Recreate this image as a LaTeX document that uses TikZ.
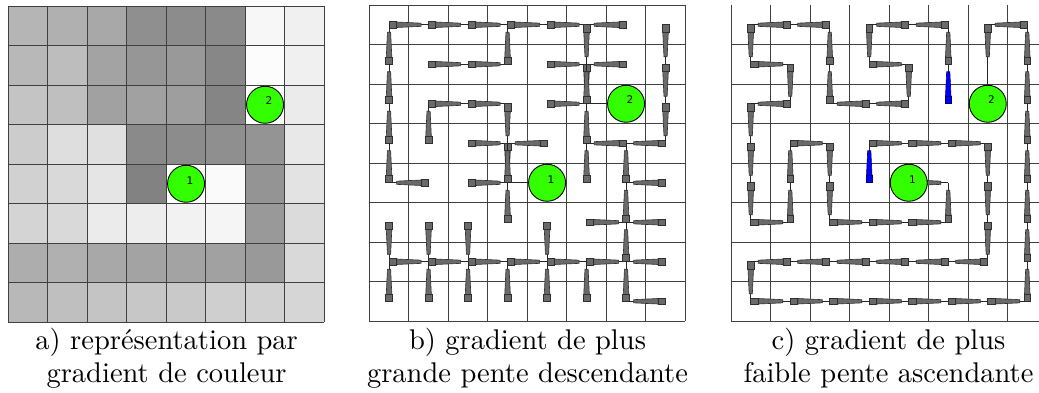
\documentclass[tikz,border=0pt]{standalone}
\usepackage{fontspec}
\newfontfamily\lblfont{DejaVu Sans}
\newfontfamily\legfont{lmroman10-regular.otf}
\definecolor{robotgreen}{HTML}{33FF00}
\definecolor{glyphgray}{HTML}{6A6A6A}
\definecolor{glyphblue}{HTML}{0000FF}
\tikzset{
  gridline/.style={draw=black!75, line width=0.9pt},
  thinlink/.style={draw=black!85, line width=0.9pt},
  robot/.style={circle, draw=black, line width=0.9pt, fill=robotgreen, minimum size=37pt, inner sep=0pt},
  robotlbl/.style={font=\lblfont\fontsize{10.5}{10.5}\selectfont, inner sep=0pt},
  legende/.style={font=\legfont\fontsize{28.5}{33}\selectfont, anchor=base, inner sep=0pt}
}
% one slope glyph: centre x, centre y, angle, colour
\newcommand{\pente}[4]{%
  \begin{scope}[shift={({#1},{#2})},rotate=#3]
    \draw[thinlink] (0,0) -- (39.5,0);
    \filldraw[fill=#4, draw=#4!45!black, line width=0.6pt]
      (6.5,-2.8) -- (32,-1.6) -- (32,1.6) -- (6.5,2.8) -- cycle;
    \filldraw[fill=#4, draw=#4!45!black, line width=0.6pt]
      (0,-3.4) rectangle (7.2,3.4);
  \end{scope}}
\begin{document}
\begin{tikzpicture}[x=1pt,y=-1pt]
  \useasboundingbox (0,0) rectangle (1039,392);
  \clip (0,0) rectangle (1039,392);

  % a) colour gradient
  \foreach \ligne [count=\ri from 0] in {{71,69,66,56,55,54,97,94},{72,74,64,59,60,53,99,94},{77,75,63,63,62,52,100,92},{80,87,88,54,55,56,58,91},{82,85,90,51,100,98,58,89},{83,85,92,93,95,96,60,86},{68,69,66,64,64,63,60,85},{72,75,77,78,79,81,82,84}}
    \foreach \g [count=\ci from 0] in \ligne
      \fill[white!\g!black] ({8.3+\ci*39.5},{6+\ri*39.5}) rectangle +(39.5,39.5);
  \foreach \i in {0,...,8} {
    \draw[gridline] ({8.3+\i*39.5},6) -- ++(0,316);
    \draw[gridline] (8.3,{6+\i*39.5}) -- ++(316,0);
  }
  \node[robot] (a1) at (186.05,183.75) {};
  \node[robot] (a2) at (265.05,104.75) {};
  \node[robotlbl] (a1n) at (190,180.5) {1};
  \node[robotlbl] (a2n) at (269,101) {2};

  % b) steepest descent
  \foreach \i in {0,...,8} {
    \draw[gridline] ({369.3+\i*39.5},5) -- ++(0,316);
    \draw[gridline] (369.3,{5+\i*39.5}) -- ++(316,0);
  }
  \foreach \ligne [count=\ri from 0] in {{0,0,0,0,0,270,180,270},{90,0,0,90,0,270,180,270},{90,0,0,270,0,90,-1,270},{90,90,0,270,180,90,180,180},{90,180,0,90,-1,90,90,180},{270,270,270,90,270,0,90,180},{0,0,0,0,0,0,90,180},{90,90,90,90,90,90,90,180}}
    \foreach \ang [count=\ci from 0] in \ligne {
      \ifnum\ang<0 \else \pente{369.3+(\ci+0.5)*39.5}{5+(\ri+0.5)*39.5}{\ang}{glyphgray}\fi
    }
  \draw[thinlink] (547.05,182.75) -- ++(-39.5,0);
  \draw[thinlink] (626.05,103.75) -- ++(-39.5,0);
  \node[robot] (b1) at (547.05,182.75) {};
  \node[robot] (b2) at (626.05,103.75) {};
  \node[robotlbl] (b1n) at (551,179.5) {1};
  \node[robotlbl] (b2n) at (630,100) {2};

  % c) weakest ascent
  \foreach \i in {0,...,8} {
    \draw[gridline] ({731+\i*39.5},5) -- ++(0,316);
  }
  \foreach \i in {1,...,8} {
    \draw[gridline] (731,{5+\i*39.5}) -- ++(316,0);
  }
  \foreach \ligne [count=\ri from 0] in {{270,180,180,270,180,180,270,180},{0,270,90,0,270,90,-1,90},{270,180,90,180,180,-1,-1,90},{270,0,270,0,0,0,270,90},{270,90,270,-1,0,-1,270,90},{0,90,0,0,0,90,270,90},{270,180,180,180,180,180,180,90},{0,0,0,0,0,0,0,90}}
    \foreach \ang [count=\ci from 0] in \ligne {
      \ifnum\ang<0 \else \pente{731+(\ci+0.5)*39.5}{5+(\ri+0.5)*39.5}{\ang}{glyphgray}\fi
    }
  \pente{948.25}{103.75}{90}{glyphblue}
  \pente{869.25}{182.75}{90}{glyphblue}
  \draw[thinlink] (987.75,103.75) -- ++(0,-39.5);
  \node[robot] (c1) at (908.75,182.75) {};
  \node[robot] (c2) at (987.75,103.75) {};
  \node[robotlbl] (c1n) at (912.5,179.5) {1};
  \node[robotlbl] (c2n) at (991.5,100) {2};

  % captions
  \node[legende] (capa1) at (166.6,349.5) {a) représentation par};
  \node[legende] (capa2) at (166.6,382.5) {gradient de couleur};
  \node[legende] (capb1) at (527.5,349.5) {b) gradient de plus};
  \node[legende] (capb2) at (527.5,382.5) {grande pente descendante};
  \node[legende] (capc1) at (888.5,349.5) {c) gradient de plus};
  \node[legende] (capc2) at (888.5,382.5) {faible pente ascendante};
\end{tikzpicture}
\end{document}
